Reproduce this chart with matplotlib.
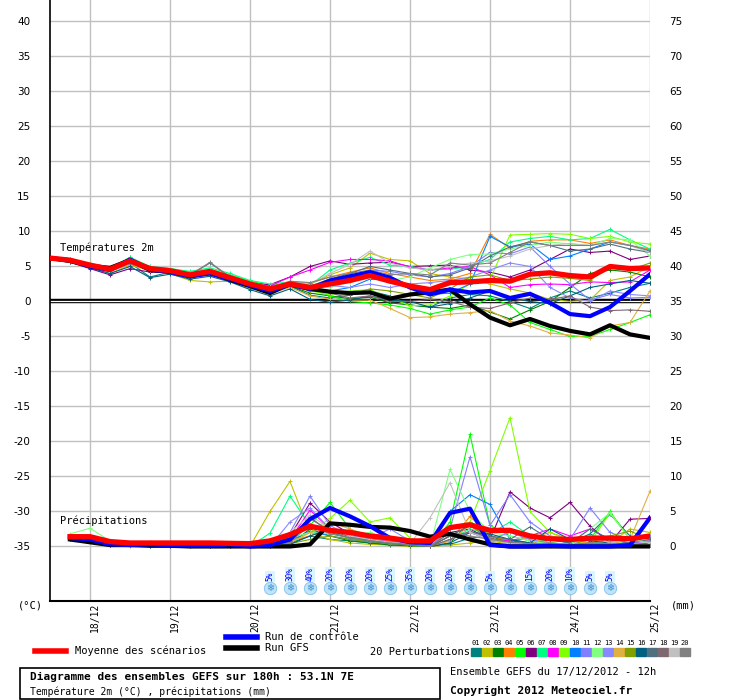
import numpy as np
import matplotlib
matplotlib.use("Agg")
import matplotlib.pyplot as plt
from matplotlib.patches import Rectangle

nan = np.nan

# time axis: every 6h from 17/12 12h to 25/12 00h
hours = list(range(0, 181, 6))
day_hours = [12, 36, 60, 84, 108, 132, 156, 180]
day_labels = ["18/12", "19/12", "20/12", "21/12", "22/12", "23/12", "24/12", "25/12"]

# --- temperature 2m (°C) ---
t_mean = [6.2, 5.9, 5.2, 4.6, 5.8, 4.7, 4.4, 3.8, 4.3, 3.4, 2.5, 1.8, 2.5, 2.0, 2.5, 3.0,
          3.7, 2.9, 2.2, 1.7, 2.7, 2.8, 3.0, 2.9, 3.9, 4.1, 3.7, 3.5, 5.0, 4.7, 4.8]
t_ctrl = [6.2, 5.9, 5.0, 4.5, 6.0, 4.6, 4.2, 3.6, 4.0, 3.2, 2.3, 1.5, 2.4, 1.8, 3.0, 3.6,
          4.2, 3.4, 2.0, 1.0, 1.7, 1.3, 1.5, 0.5, 1.1, -0.2, -1.8, -2.1, -0.8, 1.5, 3.9]
t_gfs = [6.2, 5.8, 5.1, 4.8, 5.9, 4.5, 4.3, 3.6, 4.1, 3.1, 2.2, 1.2, 2.5, 1.8, 1.4, 1.2,
         1.3, 0.4, 1.0, 1.3, 1.7, -0.4, -2.3, -3.4, -2.5, -3.5, -4.2, -4.7, -3.4, -4.7, -5.2]

t_p01 = [6.1, 5.8, 5.0, 4.3, 5.5, 3.5, 4.2, 3.5, 4.4, 3.2, 2.0, 1.2, 2.2, 0.9, 0.5, 0.9,
         1.5, 0.8, -0.5, -0.8, 0.5, 1.0, 0.8, 0.0, -1.0, 0.5, 1.5, 0.5, 1.2, 2.0, 2.6]
t_p02 = [6.2, 5.7, 4.9, 4.0, 5.2, 4.4, 4.0, 3.0, 2.8, 2.9, 1.8, 1.4, 2.3, 2.5, 3.8, 4.8,
         6.9, 6.0, 5.8, 4.0, 3.5, 3.2, 2.5, 1.8, 1.2, 0.3, 0.0, 0.2, 3.0, 3.5, 5.0]
t_p03 = [6.2, 5.9, 5.1, 4.5, 5.6, 4.6, 4.3, 3.7, 3.9, 3.3, 2.3, 1.6, 2.2, 1.2, 0.8, 0.4,
         0.6, -0.2, -0.5, -0.8, -1.0, -0.5, -1.5, -2.5, -1.2, 0.0, 2.0, 4.0, 4.5, 4.2, 3.5]
t_p04 = [6.2, 5.9, 5.3, 4.7, 5.9, 4.8, 4.5, 4.0, 4.5, 3.6, 2.6, 2.0, 2.8, 2.6, 3.5, 4.2,
         4.8, 4.0, 3.5, 3.0, 3.2, 4.0, 9.6, 7.6, 8.6, 8.8, 8.8, 8.3, 8.8, 8.0, 7.5]
t_p05 = [6.3, 6.0, 5.3, 4.6, 6.3, 4.9, 4.7, 4.2, 4.6, 3.8, 2.9, 2.3, 2.6, 1.8, 0.8, 0.0,
         -0.2, -0.5, -1.0, -1.8, -1.2, -0.8, 0.5, -0.5, -3.0, -4.0, -5.0, -5.0, -4.0, -3.0, -1.9]
t_p06 = [6.1, 5.6, 4.7, 3.8, 4.7, 4.2, 4.1, 3.5, 4.0, 3.3, 2.6, 2.4, 3.5, 5.0, 5.8, 5.3,
         5.5, 5.6, 5.0, 5.1, 5.2, 4.5, 4.2, 3.5, 4.5, 6.0, 7.5, 7.0, 7.2, 6.0, 6.5]
t_p07 = [6.3, 6.0, 5.4, 4.8, 6.3, 5.0, 4.7, 4.3, 4.8, 4.0, 3.0, 2.5, 2.8, 2.3, 4.5, 5.5,
         6.3, 5.2, 5.0, 4.5, 4.6, 5.0, 6.0, 8.5, 9.0, 9.3, 8.8, 9.0, 10.3, 8.8, 7.5]
t_p08 = [6.2, 5.9, 5.2, 4.7, 6.0, 4.8, 4.5, 4.0, 4.5, 3.6, 2.7, 2.2, 3.5, 4.5, 5.6, 6.0,
         6.0, 5.8, 4.9, 4.5, 4.8, 5.0, 3.8, 2.0, 2.4, 2.5, 2.4, 2.8, 2.7, 2.8, 4.5]
t_p09 = [6.2, 5.9, 5.2, 4.6, 5.9, 4.7, 4.4, 3.9, 4.2, 3.5, 2.6, 2.0, 2.4, 1.5, 1.0, 1.5,
         1.7, 0.5, -0.6, -0.5, 0.8, 2.5, 3.2, 9.5, 9.6, 9.7, 9.6, 9.0, 9.3, 8.5, 8.2]
t_p10 = [6.2, 5.9, 5.2, 4.6, 5.8, 4.6, 4.3, 3.8, 4.3, 3.4, 2.5, 1.9, 2.6, 1.8, 1.5, 2.0,
         3.2, 3.0, 2.0, 1.0, 1.2, 2.5, 9.3, 7.8, 8.2, 6.0, 6.5, 7.5, 8.5, 8.0, 7.2]
t_p11 = [6.0, 5.7, 5.0, 4.3, 5.4, 4.5, 4.2, 3.6, 4.2, 3.3, 2.4, 1.7, 2.6, 2.2, 2.8, 3.2,
         4.5, 4.3, 3.8, 3.5, 4.0, 5.0, 7.0, 6.8, 7.8, 5.0, 2.5, 0.2, 1.0, 0.5, 0.6]
t_p12 = [6.3, 6.0, 5.3, 4.7, 6.1, 4.9, 4.6, 4.1, 4.6, 3.7, 2.8, 2.1, 2.5, 2.2, 2.0, 2.8,
         3.5, 3.0, 3.5, 4.8, 6.0, 6.7, 6.8, 7.5, 8.0, 8.5, 8.2, 8.0, 9.0, 8.8, 6.5]
t_p13 = [6.1, 5.8, 5.1, 4.4, 5.6, 4.6, 4.3, 3.7, 4.1, 3.3, 2.4, 1.8, 2.4, 2.0, 2.3, 2.0,
         2.5, 2.0, 2.5, 2.7, 3.0, 3.5, 4.5, 5.5, 5.0, 2.0, 0.5, 0.0, 1.5, 1.0, 0.8]
t_p14 = [6.1, 5.7, 5.0, 4.4, 5.5, 4.5, 4.2, 3.6, 3.8, 3.0, 2.0, 1.2, 2.0, 0.8, 0.3, 0.2,
         0.2, -1.0, -2.3, -2.2, -1.8, -1.6, -1.3, -2.8, -3.5, -4.5, -4.8, -5.2, -3.5, -3.0, 1.5]
t_p15 = [6.2, 5.8, 5.1, 4.5, 5.7, 4.6, 4.3, 3.7, 4.0, 3.2, 2.2, 1.5, 2.3, 1.5, 1.3, 1.0,
         1.8, 1.5, 1.0, 0.5, 1.8, 3.5, 3.8, 3.0, 3.2, 3.5, 3.3, 3.0, 5.0, 4.5, 5.5]
t_p16 = [6.0, 5.6, 4.8, 4.0, 5.0, 3.4, 3.9, 3.2, 3.6, 2.8, 1.7, 0.8, 1.8, 0.3, -0.1, 0.2,
         0.8, 0.2, 0.0, -0.8, -0.3, 0.5, 1.5, 0.5, 0.0, -0.3, 0.8, 2.0, 2.5, 3.0, 2.6]
t_p17 = [6.1, 5.8, 5.1, 4.5, 5.6, 4.7, 4.4, 3.8, 5.5, 3.5, 2.5, 1.8, 2.7, 2.2, 3.2, 4.0,
         5.0, 4.5, 4.0, 3.5, 3.8, 4.8, 6.5, 7.8, 8.5, 8.0, 7.2, 7.5, 8.2, 7.5, 7.0]
t_p18 = [6.2, 5.9, 5.2, 4.6, 5.8, 4.7, 4.4, 3.8, 4.4, 3.5, 2.5, 1.8, 2.6, 1.8, 1.2, 0.5,
         0.8, 0.0, 0.0, 0.3, 0.0, -0.8, -1.0, -0.2, 0.5, 0.3, 0.8, -0.8, -1.3, -1.2, -1.4]
t_p19 = [6.2, 5.9, 5.2, 4.6, 5.9, 4.7, 4.4, 3.9, 4.6, 3.5, 2.6, 2.0, 2.9, 2.5, 4.0, 5.3,
         7.2, 5.5, 4.8, 4.5, 5.0, 5.5, 5.8, 6.5, 7.5, 8.0, 8.3, 8.0, 8.5, 8.0, 7.0]
t_p20 = [6.2, 5.9, 5.2, 4.6, 5.8, 4.7, 4.4, 3.8, 5.6, 3.5, 2.4, 1.8, 2.9, 2.7, 3.5, 4.0,
         4.5, 3.8, 4.0, 3.8, 5.5, 5.2, 5.5, 7.0, 8.5, 8.0, 8.0, 8.0, 8.5, 8.0, 7.3]

# --- precipitation (mm / 6h) ---
r_mean = [nan, 1.4, 1.4, 0.7, 0.5, 0.5, 0.5, 0.5, 0.5, 0.45, 0.4, 0.8, 1.7, 2.9, 2.3, 2.0,
          1.5, 1.2, 0.8, 0.8, 2.7, 3.1, 2.3, 2.3, 1.5, 1.1, 1.0, 1.2, 1.2, 1.1, 1.5]
r_ctrl = [nan, 1.2, 1.0, 0.3, 0.2, 0.3, 0.2, 0.1, 0.1, 0.3, 0.0, 0.2, 1.0, 3.9, 5.5, 4.3,
          2.9, 1.2, 0.6, 0.5, 4.8, 5.4, 0.2, 0.0, 0.0, 0.1, 0.0, 0.0, 0.0, 0.2, 4.1]
r_gfs = [nan, 1.0, 0.6, 0.2, 0.2, 0.1, 0.1, 0.0, 0.0, 0.0, 0.0, 0.0, 0.0, 0.3, 3.3, 3.1,
         2.8, 2.7, 2.2, 1.4, 1.8, 1.0, 0.3, 0.0, 0.0, 0.0, 0.0, 0.0, 0.0, 0.0, 0.0]

r_p01 = [nan, 1.3, 1.0, 0.3, 0.2, 0.2, 0.3, 0.2, 0.2, 0.1, 0.0, 0.0, 0.5, 1.5, 1.0, 0.8,
         0.5, 0.3, 0.2, 0.0, 0.3, 1.2, 1.5, 0.8, 0.5, 1.0, 0.5, 1.8, 4.6, 1.5, 1.0]
r_p02 = [nan, 1.4, 1.3, 0.5, 0.4, 0.3, 0.2, 0.3, 0.2, 0.0, 0.0, 5.0, 9.3, 2.0, 1.0, 0.5,
         0.3, 0.2, 0.0, 0.0, 0.2, 0.5, 0.8, 0.3, 0.2, 0.0, 0.5, 1.0, 0.5, 2.5, 2.0]
r_p03 = [nan, 1.1, 0.9, 0.2, 0.3, 0.1, 0.2, 0.1, 0.3, 0.1, 0.0, 0.0, 0.3, 2.5, 1.5, 0.8,
         0.5, 0.2, 0.1, 0.0, 0.5, 3.5, 1.5, 0.5, 0.3, 0.2, 0.3, 0.1, 0.5, 0.2, 0.3]
r_p04 = [nan, 1.2, 1.1, 0.4, 0.3, 0.6, 0.4, 0.2, 0.5, 0.2, 0.0, 0.0, 0.8, 1.5, 2.5, 2.0,
         1.2, 0.8, 0.3, 0.0, 0.8, 4.3, 1.5, 0.8, 1.2, 2.0, 1.0, 0.5, 0.3, 0.5, 0.3]
r_p05 = [nan, 1.5, 1.4, 0.4, 0.3, 0.2, 0.3, 0.4, 0.2, 0.1, 0.0, 0.0, 1.0, 3.0, 6.3, 2.5,
         1.0, 0.5, 0.2, 0.0, 3.5, 16.0, 3.0, 1.5, 0.8, 0.5, 0.3, 1.0, 5.0, 1.0, 0.5]
r_p06 = [nan, 1.3, 1.0, 0.3, 0.2, 0.3, 0.2, 0.3, 0.1, 0.2, 0.0, 0.0, 1.5, 6.2, 3.5, 1.8,
         1.0, 0.6, 0.3, 0.0, 2.0, 2.5, 1.0, 7.8, 5.5, 4.1, 6.3, 2.9, 0.5, 3.9, 4.0]
r_p07 = [nan, 1.6, 1.5, 0.5, 0.4, 0.3, 0.5, 0.3, 0.4, 0.2, 0.0, 1.9, 7.2, 3.0, 2.0, 1.2,
         0.8, 0.5, 0.2, 0.0, 1.0, 2.5, 1.8, 3.5, 1.5, 0.5, 0.3, 0.5, 0.8, 0.5, 0.3]
r_p08 = [nan, 1.2, 1.0, 0.3, 0.2, 0.2, 0.1, 0.2, 0.3, 0.1, 0.0, 0.0, 1.0, 5.2, 2.5, 1.5,
         1.0, 0.7, 0.4, 0.0, 1.5, 2.0, 1.0, 0.8, 1.5, 2.5, 1.5, 2.5, 1.0, 0.5, 0.8]
r_p09 = [nan, 1.4, 1.2, 0.4, 0.3, 0.4, 0.3, 0.2, 0.2, 0.1, 0.0, 0.0, 0.5, 2.0, 4.0, 6.6,
         3.5, 4.1, 1.2, 0.0, 2.5, 3.5, 10.8, 18.4, 5.0, 2.0, 0.8, 0.5, 4.8, 1.0, 0.6]
r_p10 = [nan, 1.3, 1.2, 0.5, 0.3, 0.2, 0.4, 0.3, 0.3, 0.2, 0.0, 0.0, 0.8, 2.2, 1.5, 1.0,
         0.6, 0.4, 0.2, 0.0, 5.0, 7.4, 6.0, 1.0, 0.5, 0.3, 0.2, 0.4, 0.3, 0.2, 0.5]
r_p11 = [nan, 1.5, 1.3, 0.4, 0.3, 0.3, 0.2, 0.3, 0.2, 0.1, 0.0, 0.0, 2.0, 7.2, 3.0, 1.5,
         1.0, 0.6, 0.3, 0.0, 2.5, 12.8, 3.0, 7.4, 3.5, 1.5, 1.0, 5.5, 2.0, 1.0, 1.5]
r_p12 = [nan, 1.8, 2.6, 0.8, 0.4, 0.3, 0.3, 0.2, 0.3, 0.2, 0.0, 0.0, 1.2, 2.0, 1.8, 1.5,
         2.0, 1.0, 1.0, 0.0, 11.0, 5.0, 2.0, 1.5, 0.8, 0.5, 0.3, 2.5, 4.8, 1.0, 0.5]
r_p13 = [nan, 1.4, 1.1, 0.3, 0.2, 0.2, 0.2, 0.3, 0.2, 0.1, 0.0, 0.0, 3.5, 5.5, 2.5, 1.5,
         1.2, 2.5, 0.8, 0.0, 1.0, 2.0, 1.0, 2.0, 1.0, 0.5, 0.3, 0.4, 0.3, 0.5, 0.8]
r_p14 = [nan, 1.2, 0.9, 0.2, 0.1, 0.5, 0.3, 0.1, 0.2, 0.3, 0.0, 0.0, 0.5, 2.0, 3.5, 2.5,
         1.5, 1.0, 0.5, 0.0, 0.8, 3.0, 1.2, 0.5, 0.3, 1.5, 0.8, 0.5, 0.3, 1.0, 7.9]
r_p15 = [nan, 1.3, 1.0, 0.3, 0.2, 0.2, 0.2, 0.2, 0.2, 0.1, 0.0, 0.0, 0.4, 1.0, 1.5, 1.0,
         0.7, 0.4, 0.2, 0.0, 1.5, 3.0, 1.0, 0.5, 0.3, 0.5, 0.3, 1.0, 1.5, 2.2, 1.0]
r_p16 = [nan, 1.0, 0.8, 0.2, 0.2, 0.1, 0.1, 0.2, 0.1, 0.1, 0.0, 0.0, 0.3, 1.5, 2.5, 1.5,
         0.8, 0.5, 0.3, 0.0, 0.5, 2.0, 1.8, 1.0, 0.5, 2.5, 1.0, 0.8, 0.5, 0.3, 0.2]
r_p17 = [nan, 1.5, 1.2, 0.4, 0.3, 0.2, 0.3, 0.2, 0.2, 0.1, 0.0, 0.0, 0.8, 4.2, 2.0, 1.2,
         0.8, 0.5, 0.2, 0.0, 1.5, 3.0, 1.5, 1.0, 2.8, 1.0, 0.5, 2.5, 1.0, 0.5, 1.0]
r_p18 = [nan, 1.4, 1.1, 0.3, 0.2, 0.2, 0.2, 0.2, 0.2, 0.1, 0.0, 0.0, 0.6, 4.0, 2.2, 1.4,
         1.0, 0.6, 0.3, 0.0, 1.0, 2.2, 1.2, 0.6, 0.4, 0.3, 0.2, 0.5, 0.4, 0.3, 0.2]
r_p19 = [nan, 1.7, 1.5, 0.5, 0.3, 0.3, 0.2, 0.3, 0.2, 0.2, 0.0, 0.5, 2.0, 4.5, 2.5, 1.5,
         1.0, 0.6, 0.4, 4.1, 9.1, 2.0, 1.0, 0.5, 0.3, 0.3, 0.2, 1.5, 0.5, 1.0, 0.5]
r_p20 = [nan, 1.5, 1.3, 0.4, 0.3, 0.2, 0.3, 0.2, 0.2, 0.1, 0.0, 0.0, 0.7, 3.0, 1.8, 1.2,
         0.8, 0.5, 0.3, 0.0, 2.0, 1.5, 1.0, 0.6, 0.4, 0.3, 0.2, 0.5, 0.4, 0.3, 0.2]

t_perts = [t_p01, t_p02, t_p03, t_p04, t_p05, t_p06, t_p07, t_p08, t_p09, t_p10,
           t_p11, t_p12, t_p13, t_p14, t_p15, t_p16, t_p17, t_p18, t_p19, t_p20]
r_perts = [r_p01, r_p02, r_p03, r_p04, r_p05, r_p06, r_p07, r_p08, r_p09, r_p10,
           r_p11, r_p12, r_p13, r_p14, r_p15, r_p16, r_p17, r_p18, r_p19, r_p20]

pert_colors = ["#008080", "#c0c000", "#008000", "#ff8000", "#00ff00",
               "#800080", "#00ff80", "#ff00ff", "#80ff00", "#0080ff",
               "#8080ff", "#80ff80", "#8888ff", "#e0b040", "#80a000",
               "#006080", "#507080", "#806870", "#c0c0c0", "#808080"]

# snow probability icons
snow_hours = [66, 72, 78, 84, 90, 96, 102, 108, 114, 120, 126, 132, 138, 144, 150, 156, 162, 168]
snow_pct = [5, 30, 40, 20, 20, 20, 25, 35, 20, 20, 20, 5, 20, 15, 20, 10, 5, 5]

PRECIP_OFFSET = -35  # precipitation 0 mm sits at -35 on the left axis

W, H = 740, 700


def fx(px):
    return px / W


def fy(py):
    return 1 - py / H


fig = plt.figure(figsize=(7.4, 7.0), dpi=100)
ax = fig.add_axes([fx(50), fy(601), 600 / W, 601 / H])

ax.set_xlim(0, 180)
ax.set_ylim(-42.79, 43.07)
ax.set_xticks(day_hours)
ax.set_xticklabels(day_labels, rotation=90, fontsize=7, family="DejaVu Sans Mono")
ax.set_yticks(range(-35, 41, 5))
ax.set_yticklabels([str(v) for v in range(-35, 41, 5)], fontsize=7.5)
ax.tick_params(length=0)
ax.tick_params(axis="y", pad=14)
ax.tick_params(axis="x", pad=1.5)
for lab in ax.get_xticklabels():
    lab.set_horizontalalignment("left")
ax.grid(True, color="#c0c0c0", lw=1)
ax.set_axisbelow(True)
for s in ["top", "right"]:
    ax.spines[s].set_visible(False)
ax.spines["left"].set_linewidth(1.2)
ax.spines["bottom"].set_linewidth(1.5)

ax2 = ax.twinx()
ax2.set_ylim(ax.get_ylim()[0] - PRECIP_OFFSET, ax.get_ylim()[1] - PRECIP_OFFSET)
ax2.set_yticks(range(0, 76, 5))
ax2.set_yticklabels([str(v) for v in range(0, 76, 5)], fontsize=7.5)
ax2.tick_params(length=0, pad=14)
for s in ax2.spines.values():
    s.set_visible(False)

# zero line (double black)
ax.axhline(0, color="black", lw=3.2, zorder=1.5)
ax.axhline(0, color="white", lw=0.9, zorder=1.6)

# perturbations
for tv, rv, c in zip(t_perts, r_perts, pert_colors):
    ax.plot(hours, tv, color=c, lw=0.8, marker="+", ms=3, mew=0.7, zorder=2)
    ax.plot(hours, np.array(rv) + PRECIP_OFFSET, color=c, lw=0.8, marker="+", ms=3, mew=0.7, zorder=2)

ax.plot(hours, t_gfs, color="black", lw=3, zorder=3)
ax.plot(hours, np.array(r_gfs) + PRECIP_OFFSET, color="black", lw=3, zorder=3)
ax.plot(hours, t_ctrl, color="#0000ff", lw=3, zorder=4)
ax.plot(hours, np.array(r_ctrl) + PRECIP_OFFSET, color="#0000ff", lw=3, zorder=4)
ax.plot(hours, t_mean, color="#ff0000", lw=3.8, zorder=5)
ax.plot(hours, np.array(r_mean) + PRECIP_OFFSET, color="#ff0000", lw=3.8, zorder=5)

ax.text(3, 7.7, "Températures 2m", fontsize=7.5, va="center", family="DejaVu Sans Mono")
ax.text(3, -31.3, "Précipitations", fontsize=7.5, va="center", family="DejaVu Sans Mono")

# snow probability
ax.scatter(snow_hours, [-40.9] * len(snow_hours), s=80, color="#bfe3f7",
           edgecolors="#7fc0ea", linewidths=0.6, zorder=6)
for h, p in zip(snow_hours, snow_pct):
    ax.text(h, -40.9, "\u2744", color="#3d8fd1", fontsize=7, ha="center", va="center", zorder=7)
    ax.text(h, -40.0, f"{p}%", color="#0000ff", fontsize=5.5, rotation=90,
            ha="center", va="bottom", family="DejaVu Sans Mono", zorder=7,
            bbox=dict(boxstyle="square,pad=0.1", fc="#d9f5fd", ec="none"))

# unit labels
fig.text(fx(30), fy(606), "(°C)", fontsize=7.5, ha="center", va="center", family="DejaVu Sans Mono")
fig.text(fx(683), fy(606), "(mm)", fontsize=7.5, ha="center", va="center", family="DejaVu Sans Mono")

# legend
fig.add_artist(plt.Line2D([fx(35), fx(66)], [fy(651), fy(651)], color="#ff0000", lw=4))
fig.text(fx(75), fy(651), "Moyenne des scénarios", fontsize=7.5, va="center", family="DejaVu Sans Mono")
fig.add_artist(plt.Line2D([fx(226), fx(257)], [fy(637), fy(637)], color="#0000ff", lw=4))
fig.text(fx(265), fy(637.5), "Run de contrôle", fontsize=7.5, va="center", family="DejaVu Sans Mono")
fig.add_artist(plt.Line2D([fx(226), fx(257)], [fy(648), fy(648)], color="black", lw=4))
fig.text(fx(265), fy(648), "Run GFS", fontsize=7.5, va="center", family="DejaVu Sans Mono")
fig.text(fx(370), fy(652), "20 Perturbations", fontsize=7.5, va="center", family="DejaVu Sans Mono")
for k, c in enumerate(pert_colors):
    x0 = 471 + k * 11
    fig.add_artist(Rectangle((fx(x0), fy(656)), 10 / W, 8 / H, color=c, transform=fig.transFigure))
    fig.text(fx(x0 + 5), fy(643), f"{k + 1:02d}", fontsize=5, ha="center", va="center",
             family="DejaVu Sans Mono")

# title box
fig.add_artist(Rectangle((fx(20), fy(699)), 420 / W, 31 / H, fill=False, ec="black", lw=1.2,
                         transform=fig.transFigure))
fig.text(fx(30), fy(677), "Diagramme des ensembles GEFS sur 180h : 53.1N 7E", fontsize=8,
         weight="bold", va="center", family="DejaVu Sans Mono")
fig.text(fx(30), fy(692), "Température 2m (°C) , précipitations (mm)", fontsize=7,
         va="center", family="DejaVu Sans Mono")
fig.text(fx(450), fy(672), "Ensemble GEFS du 17/12/2012 - 12h", fontsize=7.5, va="center",
         family="DejaVu Sans Mono")
fig.text(fx(450), fy(691), "Copyright 2012 Meteociel.fr", fontsize=8, weight="bold", va="center",
         family="DejaVu Sans Mono")

fig.savefig("out.png", dpi=100)
